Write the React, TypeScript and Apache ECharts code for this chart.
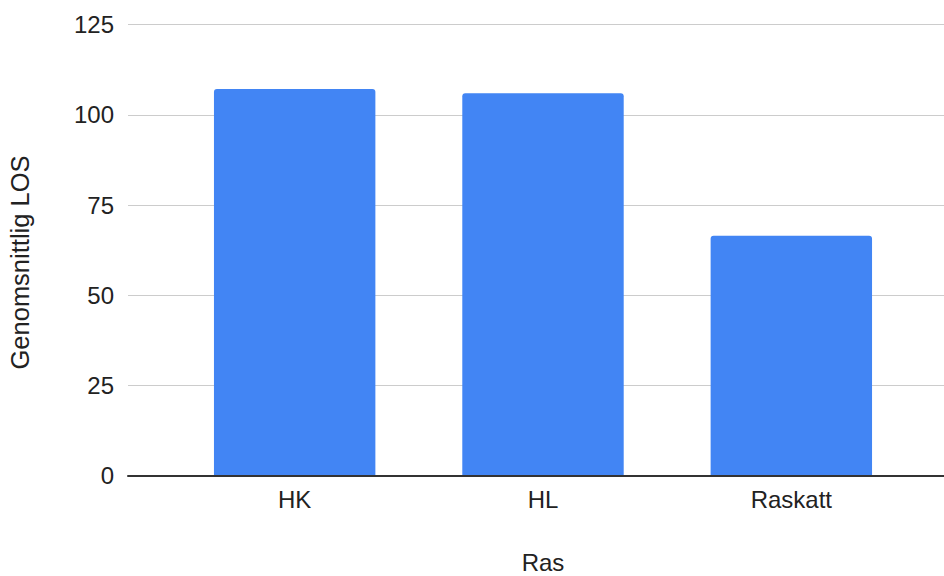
import React, { useEffect, useRef } from "react";
import * as echarts from "echarts";

const categories = ["HK", "HL", "Raskatt"];
const avgLos = [107.2, 106, 66.5];
const yTicks = { min: 0, max: 125, interval: 25 };
const xTitle = "Ras";
const yTitle = "Genomsnittlig LOS";

const FONT = '"Liberation Sans", Arial, sans-serif';
const TEXT = "#222222";

export default function App() {
  const ref = useRef<HTMLDivElement>(null);
  useEffect(() => {
    if (!ref.current) return;
    const chart = echarts.init(ref.current, undefined, { renderer: "svg" });
    chart.setOption({
      animation: false,
      backgroundColor: "#ffffff",
      textStyle: { fontFamily: FONT },
      grid: [
        { left: 128, right: 0, top: 24.7, bottom: 100.3, outerBoundsMode: "none", containLabel: false },
        { left: 170.5, right: 28.5, top: 24.7, bottom: 100.3, outerBoundsMode: "none", containLabel: false },
      ],
      xAxis: [
        {
          type: "value",
          gridIndex: 0,
          min: 0,
          max: 1,
          z: 5,
          axisLine: { show: true, onZero: true, lineStyle: { color: "#333333", width: 2 } },
          axisTick: { show: false },
          axisLabel: { show: false },
          splitLine: { show: false },
        },
        {
          type: "category",
          gridIndex: 1,
          data: categories,
          axisLine: { show: false },
          axisTick: { show: false },
          axisLabel: { color: TEXT, fontSize: 24, margin: 12, fontFamily: FONT },
          name: xTitle,
          nameLocation: "middle",
          nameGap: 75,
          nameTextStyle: { color: TEXT, fontSize: 24, fontFamily: FONT, verticalAlign: "top" },
        },
      ],
      yAxis: [
        {
          type: "value",
          gridIndex: 0,
          min: yTicks.min,
          max: yTicks.max,
          interval: yTicks.interval,
          axisLine: { show: false },
          axisTick: { show: false },
          axisLabel: { color: TEXT, fontSize: 24, margin: 14, fontFamily: FONT },
          splitLine: { show: true, lineStyle: { color: "#cccccc", width: 1 } },
        },
        {
          type: "value",
          gridIndex: 1,
          min: yTicks.min,
          max: yTicks.max,
          interval: yTicks.interval,
          show: false,
          splitLine: { show: false },
        },
      ],
      graphic: [
        {
          type: "text",
          x: 19.5,
          y: 262.5,
          rotation: Math.PI / 2,
          style: {
            text: yTitle,
            fill: TEXT,
            font: `25.5px ${FONT}`,
            align: "center",
            verticalAlign: "middle",
          },
        },
      ],
      series: [
        {
          type: "bar",
          xAxisIndex: 1,
          yAxisIndex: 1,
          data: avgLos,
          barCategoryGap: "35%",
          itemStyle: { color: "#4285F4", borderRadius: [3, 3, 0, 0] },
        },
      ],
    });
    return () => chart.dispose();
  }, []);
  return <div ref={ref} style={{ width: 944, height: 576, position: "absolute", left: 0, top: 0 }} />;
}
